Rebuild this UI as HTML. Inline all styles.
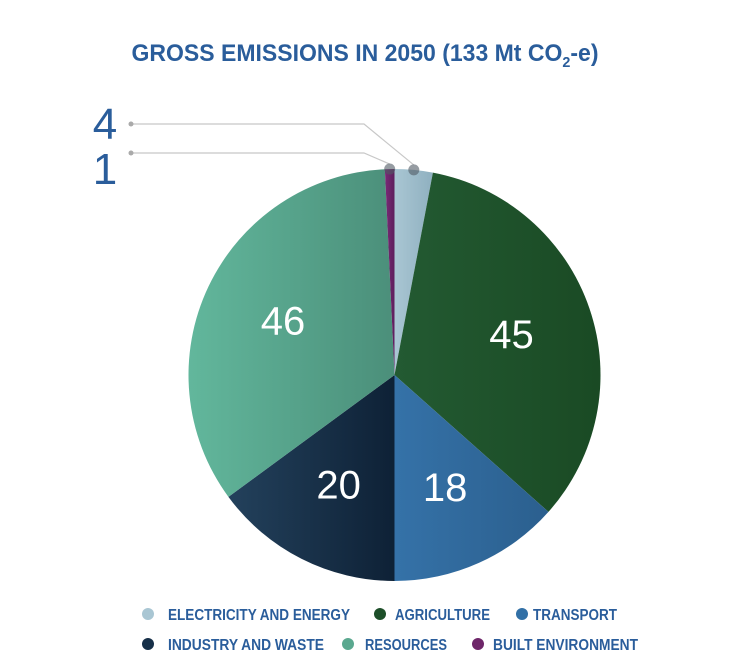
<!DOCTYPE html>
<html><head><meta charset="utf-8"><style>
body{margin:0;background:#fff;width:754px;height:664px;overflow:hidden}
svg{display:block;font-family:"Liberation Sans",sans-serif}
</style></head><body>
<svg id="c" width="754" height="664" viewBox="0 0 754 664">
<defs>
<linearGradient id="g0" x1="0" x2="1"><stop offset="0" stop-color="#a9c6d3"/><stop offset="1" stop-color="#8fb0c0"/></linearGradient>
<linearGradient id="g1" x1="0" x2="1"><stop offset="0" stop-color="#235a32"/><stop offset="1" stop-color="#1a4a24"/></linearGradient>
<linearGradient id="g2" x1="0" x2="1"><stop offset="0" stop-color="#3572a8"/><stop offset="1" stop-color="#2b5f8e"/></linearGradient>
<linearGradient id="g3" x1="0" x2="1"><stop offset="0" stop-color="#23415c"/><stop offset="1" stop-color="#0e2136"/></linearGradient>
<linearGradient id="g4" x1="0" x2="1"><stop offset="0" stop-color="#62b79c"/><stop offset="1" stop-color="#4b8f7a"/></linearGradient>
<linearGradient id="g5" x1="0" x2="1"><stop offset="0" stop-color="#7a2a78"/><stop offset="1" stop-color="#5e1f5c"/></linearGradient>
</defs>
<text x="365" y="61" text-anchor="middle" font-size="24" font-weight="bold" fill="#2a5d9b" textLength="467" lengthAdjust="spacingAndGlyphs">GROSS EMISSIONS IN 2050 (133 Mt CO<tspan font-size="15" dy="6">2</tspan><tspan dy="-6">-e)</tspan></text>
<g id="slices"></g>
<g id="labels"></g>
<g id="legend"></g>
</svg>
<script>
const categories=["Electricity and energy","Agriculture","Transport","Industry and waste","Resources","Built environment"];
const values=[4,45,18,20,46,1];
const legendLabels=["ELECTRICITY AND ENERGY","AGRICULTURE","TRANSPORT","INDUSTRY AND WASTE","RESOURCES","BUILT ENVIRONMENT"];
const colors=["#a9c6d3","#1d4f29","#3270a6","#162f48","#5aa88f","#6e2669"];
const NS="http://www.w3.org/2000/svg";
const cx=394.5,cy=375,r=206;
const total=values.reduce((a,b)=>a+b,0);
function pt(frac,rad){const a=frac*2*Math.PI;return [cx+rad*Math.sin(a),cy-rad*Math.cos(a)];}
const sg=document.getElementById('slices'),lg=document.getElementById('labels');
let acc=0;
values.forEach((v,i)=>{
  const f0=acc/total,f1=(acc+v)/total;acc+=v;
  const [x0,y0]=pt(f0,r),[x1,y1]=pt(f1,r);
  const p=document.createElementNS(NS,'path');
  p.setAttribute('d',`M${cx},${cy}L${x0},${y0}A${r},${r} 0 ${(f1-f0)>0.5?1:0} 1 ${x1},${y1}Z`);
  p.setAttribute('fill',`url(#g${i})`);
  
  
  sg.appendChild(p);
  const mid=(f0+f1)/2;
  const t=document.createElementNS(NS,'text');
  
  
  t.setAttribute('font-size','40');
  t.textContent=v;
  if(v>=10){
    const [lx,ly]=pt(mid,r*0.6);
    t.setAttribute('x',lx);t.setAttribute('y',ly+13);t.setAttribute('text-anchor','middle');t.setAttribute('fill','#fff');
  }else{
    const [ex,ey]=pt(mid,r);
    const rowY=v>=2?124:153;
    const pl=document.createElementNS(NS,'polyline');
    pl.setAttribute('points',`131,${rowY} 364,${rowY} ${ex},${ey-5}`);
    pl.setAttribute('fill','none');pl.setAttribute('stroke','#c8c8c8');pl.setAttribute('stroke-width','1.2');
    
    
    lg.appendChild(pl);
    [[131,rowY,2.5,'#aaa'],[ex,ey,5.5,'rgba(80,90,100,0.6)']].forEach(([x,y,rr,c])=>{
      const d=document.createElementNS(NS,'circle');d.setAttribute('cx',x);d.setAttribute('cy',y);d.setAttribute('r',rr);d.setAttribute('fill',c);
      
      
      lg.appendChild(d);
    });
    t.setAttribute('font-size','44');
    t.setAttribute('x',105);t.setAttribute('y',v>=2?139:184);t.setAttribute('text-anchor','middle');t.setAttribute('fill','#2a5d9b');
  }
  lg.appendChild(t);
});
const lx=[[148,168,182],[380,395,95],[522,533,84],[148,168,156],[348,365,82],[478,493,145]];
const lgG=document.getElementById('legend');
legendLabels.forEach((s,i)=>{
  const y=i<3?614:644;const [dx,tx,tw]=lx[i];
  const g=document.createElementNS(NS,'g');
  
  
  const c=document.createElementNS(NS,'circle');c.setAttribute('cx',dx);c.setAttribute('cy',y);c.setAttribute('r',6);c.setAttribute('fill',colors[i]);
  
  
  const t=document.createElementNS(NS,'text');t.setAttribute('x',tx);t.setAttribute('y',y+6);t.setAttribute('font-size','16');t.setAttribute('font-weight','bold');t.setAttribute('fill','#2a5d9b');
  t.setAttribute('textLength',tw);t.setAttribute('lengthAdjust','spacingAndGlyphs');t.textContent=s;
  
  
  g.appendChild(c);g.appendChild(t);lgG.appendChild(g);
});
</script>
</body></html>
